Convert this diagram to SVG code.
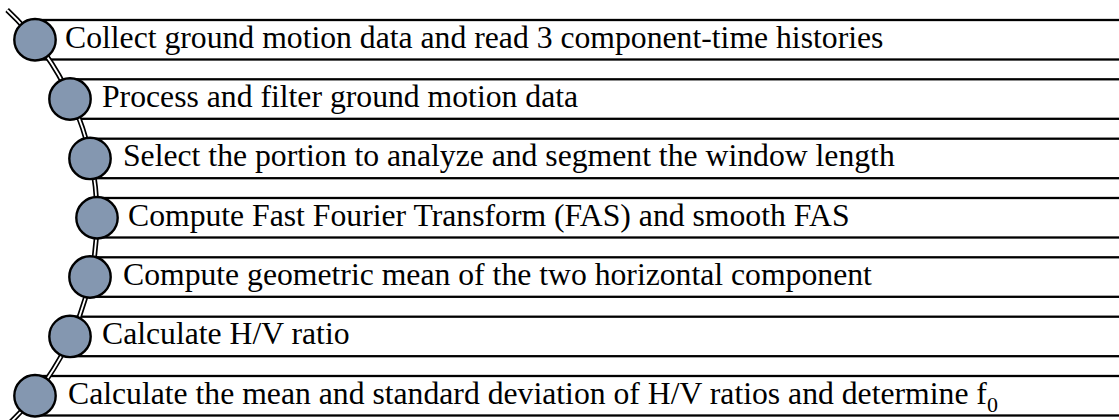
<svg xmlns="http://www.w3.org/2000/svg" width="1119" height="420" viewBox="0 0 1119 420">
  <style>
    .box { fill: #ffffff; stroke: #000000; stroke-width: 2.3; }
    .dot { fill: #8497B0; stroke: #000000; stroke-width: 2.4; }
    .lbl { font-family: "Liberation Serif", "Times New Roman", serif; font-size: 31.7px; fill: #000000; }
    .sub { font-size: 22px; }
    .rail-out { fill: none; stroke: #000000; stroke-width: 5.2; }
    .rail-in { fill: none; stroke: #ffffff; stroke-width: 1.8; }
  </style>
  <rect width="1119" height="420" fill="#ffffff"/>
  <g id="boxes">
    <rect id="box1" class="box" x="35" y="20" width="1100" height="39.5"/>
    <rect id="box2" class="box" x="70" y="79.3" width="1070" height="39.5"/>
    <rect id="box3" class="box" x="90" y="138.7" width="1050" height="39.5"/>
    <rect id="box4" class="box" x="97" y="198" width="1050" height="39.5"/>
    <rect id="box5" class="box" x="90" y="257.3" width="1050" height="39.5"/>
    <rect id="box6" class="box" x="70" y="316.7" width="1070" height="39.5"/>
    <rect id="box7" class="box" x="35" y="376" width="1100" height="39.5"/>
  </g>
  <g id="connectors">
    <path class="rail-out" d="M 7.1 10 A 285 285 0 0 1 7.63 425"/>
    <path class="rail-in" d="M 7.1 10 A 285 285 0 0 1 7.63 425"/>
  </g>
  <g id="node1">
    <circle class="dot" cx="35" cy="39.75" r="20.7"/>
    <text class="lbl" x="65" y="47.7">Collect ground motion data and read 3 component-time histories</text>
  </g>
  <g id="node2">
    <circle class="dot" cx="70" cy="99" r="20.7"/>
    <text class="lbl" x="102" y="107">Process and filter ground motion data</text>
  </g>
  <g id="node3">
    <circle class="dot" cx="90" cy="158.4" r="20.7"/>
    <text class="lbl" x="123" y="166.4">Select the portion to analyze and segment the window length</text>
  </g>
  <g id="node4">
    <circle class="dot" cx="97" cy="217.75" r="20.7"/>
    <text class="lbl" x="128" y="225.7">Compute Fast Fourier Transform (FAS) and smooth FAS</text>
  </g>
  <g id="node5">
    <circle class="dot" cx="90" cy="277" r="20.7"/>
    <text class="lbl" x="123" y="285">Compute geometric mean of the two horizontal component</text>
  </g>
  <g id="node6">
    <circle class="dot" cx="70" cy="336.4" r="20.7"/>
    <text class="lbl" x="102" y="344.4">Calculate H/V ratio</text>
  </g>
  <g id="node7">
    <circle class="dot" cx="35" cy="395.75" r="20.7"/>
    <text class="lbl" x="68" y="403.7">Calculate the mean and standard deviation of H/V ratios and determine f<tspan class="sub" dy="8">0</tspan></text>
  </g>
</svg>
